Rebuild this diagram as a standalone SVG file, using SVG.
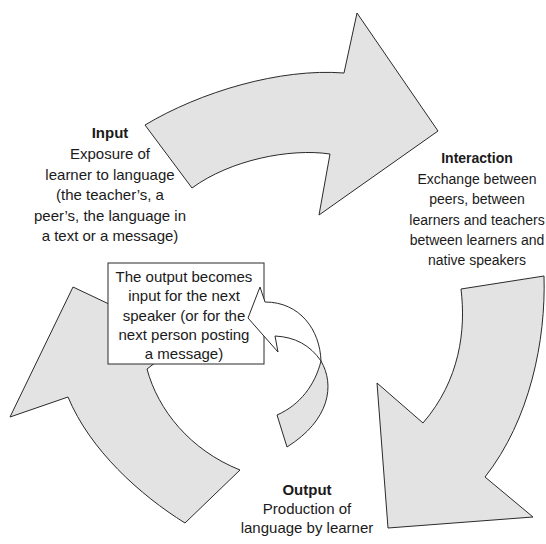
<svg xmlns="http://www.w3.org/2000/svg" width="546" height="544" viewBox="0 0 546 544">
<style>
.arrow{fill:#e3e3e3;stroke:#2a2a2a;stroke-width:1;stroke-linejoin:miter}
.t{font-family:"Liberation Sans",Arial,sans-serif;font-size:15px;fill:#1a1a1a;text-anchor:middle}
.s{font-size:14px}
.b{font-weight:bold}
.box{fill:#fff;stroke:#2a2a2a;stroke-width:1}
.call{fill:#fff;stroke:#2a2a2a;stroke-width:1}
.callg{fill:#e3e3e3;stroke:#2a2a2a;stroke-width:1}
</style>
<rect width="546" height="544" fill="#fff"/>
<g id="connectors">
<path id="arrow-top" class="arrow" d="M145,125 C200,92 280,68 344,73 L357,13 L438,131 L319,215 L330,154 C290,148 230,160 192,188 Z"/>
<path id="arrow-right" class="arrow" d="M461,289 L544,276 C546,340 530,420 485,477 L533,517 L388,528 L377,383 L423,423 C460,380 466,330 461,289 Z"/>
<path id="arrow-left" class="arrow" d="M185,523 C140,495 90,450 68,397 L10,417 L73,287 L185,340 L147,369 C158,410 190,450 240,470 Z"/>
</g>
<g id="node-input">
<text class="t b" x="110" y="138">Input</text>
<text class="t" x="110" y="159">Exposure of</text>
<text class="t" x="110" y="180">learner to language</text>
<text class="t" x="110" y="200">(the teacher’s, a</text>
<text class="t" x="110" y="221">peer’s, the language in</text>
<text class="t" x="110" y="241">a text or a message)</text>
</g>
<g id="node-interaction">
<text class="t s b" x="477" y="163">Interaction</text>
<text class="t s" x="477" y="184">Exchange between</text>
<text class="t s" x="477" y="204">peers, between</text>
<text class="t s" x="477" y="225">learners and teachers</text>
<text class="t s" x="477" y="245">between learners and</text>
<text class="t s" x="477" y="265">native speakers</text>
</g>
<g id="node-output">
<text class="t b" x="307" y="495">Output</text>
<text class="t" x="307" y="514">Production of</text>
<text class="t" x="307" y="533">language by learner</text>
</g>
<g id="node-callout">
<rect class="box" x="108" y="263" width="156" height="101"/>
<text class="t" x="184" y="282">The output becomes</text>
<text class="t" x="184" y="301">input for the next</text>
<text class="t" x="184" y="321">speaker (or for the</text>
<text class="t" x="184" y="340">next person posting</text>
<text class="t" x="184" y="359">a message)</text>
<path id="callout-back" class="callg" d="M321,361 C335,385 330,420 287,447 L277,415 C300,405 315,385 321,361 Z"/>
<path id="callout-arrow" class="call" d="M260,287 L248,318 L278,352 L275,336 C295,337 310,345 321,361 C320,330 300,302 265,302 Z"/>
</g>
</svg>
